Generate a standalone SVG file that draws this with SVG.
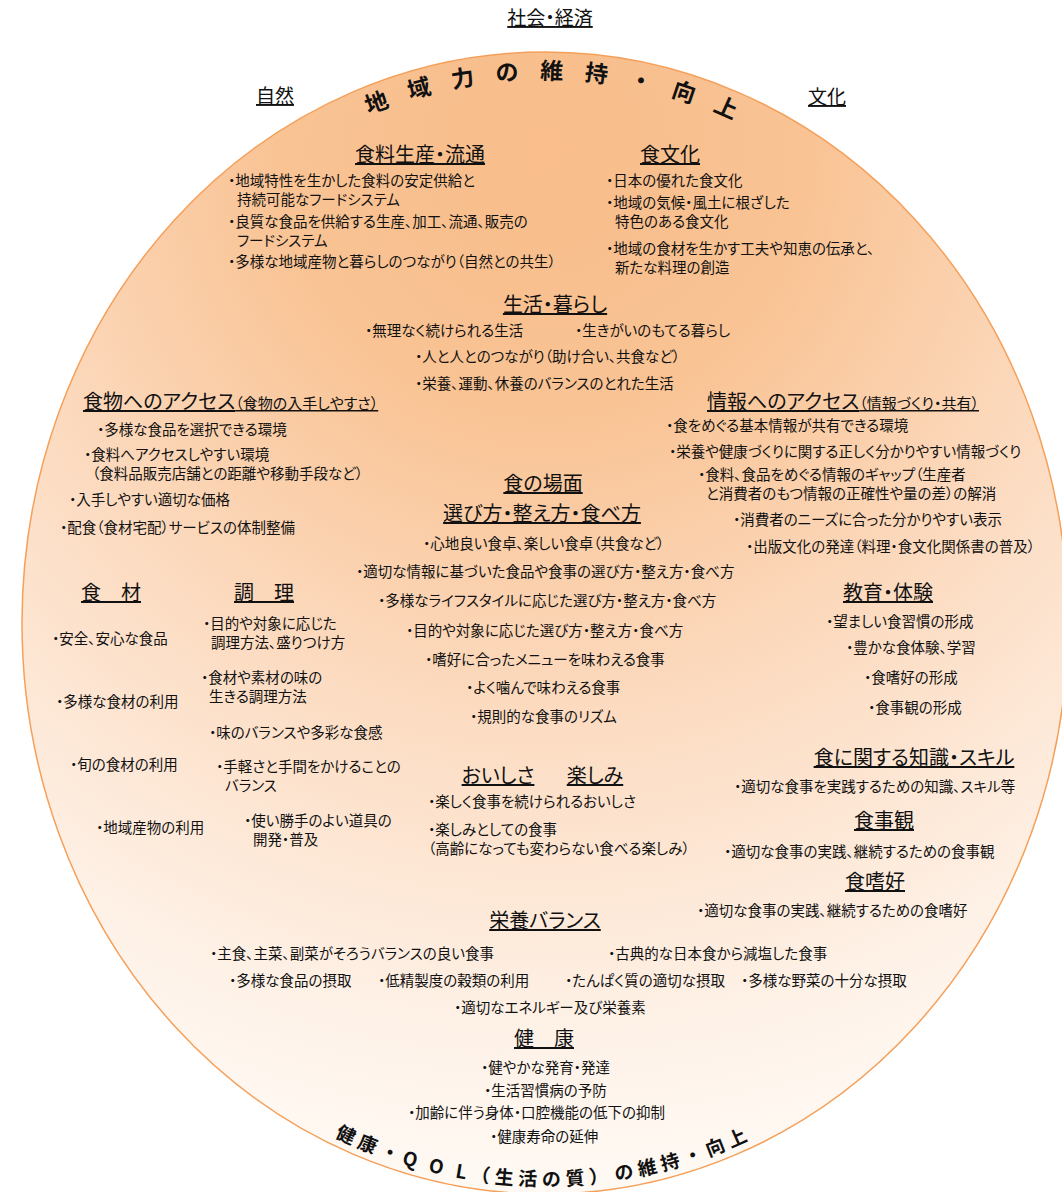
<svg xmlns="http://www.w3.org/2000/svg" xmlns:xlink="http://www.w3.org/1999/xlink" width="1062" height="1192" viewBox="0 0 1062 1192">
<style>
text{font-family:"Noto Sans CJK JP","Noto Sans CJK SC",sans-serif;fill:#111;font-feature-settings:"palt"}
.t{font-size:14.5px}
.h{font-size:20px;text-decoration:underline}
.hs{font-size:15px}
.top{font-size:19px;text-decoration:underline}
.m{text-anchor:middle}
.arc{font-weight:bold;font-feature-settings:normal}
.ab{font-size:19px;letter-spacing:5px}
</style>
<defs>
<radialGradient id="bg" gradientUnits="userSpaceOnUse" cx="545" cy="150" r="1050">
<stop offset="0" stop-color="#f8bd8a"/>
<stop offset="0.25" stop-color="#f9c394"/>
<stop offset="0.55" stop-color="#fcdcc2"/>
<stop offset="0.85" stop-color="#fef2e8"/>
<stop offset="1" stop-color="#fffaf5"/>
</radialGradient>
<path id="topArc" d="M 49,623 A 496,544 0 0 1 1041,623"/>
<path id="botArc" d="M 30,623 A 515,563 0 0 0 1060,623"/>
</defs>
<rect width="1062" height="1192" fill="#fff"/>
<ellipse id="circle" cx="545" cy="623" rx="523" ry="571" fill="url(#bg)" stroke="#f5a05a" stroke-width="1.5"/>

<g id="outer-labels">
<text class="top m" x="550" y="25">社会・経済</text>
<text class="top m" x="275" y="103">自然</text>
<text class="top m" x="827" y="104">文化</text>
</g>

<g id="arc-top">
<text class="arc" font-size="23" letter-spacing="21" text-anchor="middle"><textPath xlink:href="#topArc" startOffset="834">地域力の維持・向上</textPath></text>
</g>
<g id="arc-bottom">
<text class="arc ab"><textPath xlink:href="#botArc" startOffset="629">健康・</textPath></text>
<text class="arc ab" style="letter-spacing:13px"><textPath xlink:href="#botArc" startOffset="701">QOL</textPath></text>
<text class="arc ab"><textPath xlink:href="#botArc" startOffset="772">（生活の質）</textPath></text>
<text class="arc ab"><textPath xlink:href="#botArc" startOffset="918">の維持・向上</textPath></text>
</g>

<g id="food-production">
<text class="h m" x="420" y="162">食料生産・流通</text>
<text class="t" x="228" y="186">・地域特性を生かした食料の安定供給と<tspan x="237" dy="19">持続可能なフードシステム</tspan></text>
<text class="t" x="228" y="227">・良質な食品を供給する生産、加工、流通、販売の<tspan x="237" dy="19">フードシステム</tspan></text>
<text class="t" x="228" y="267">・多様な地域産物と暮らしのつながり（自然との共生）</text>
</g>

<g id="food-culture">
<text class="h m" x="670" y="162">食文化</text>
<text class="t" x="606" y="186">・日本の優れた食文化</text>
<text class="t" x="606" y="208">・地域の気候・風土に根ざした<tspan x="615" dy="19">特色のある食文化</tspan></text>
<text class="t" x="606" y="254">・地域の食材を生かす工夫や知恵の伝承と、<tspan x="615" dy="19">新たな料理の創造</tspan></text>
</g>

<g id="life">
<text class="h m" x="555" y="312">生活・暮らし</text>
<text class="t" x="365" y="336">・無理なく続けられる生活</text>
<text class="t" x="575" y="336">・生きがいのもてる暮らし</text>
<text class="t" x="415" y="362">・人と人とのつながり（助け合い、共食など）</text>
<text class="t" x="415" y="389">・栄養、運動、休養のバランスのとれた生活</text>
</g>

<g id="food-access">
<text class="h" x="83" y="409">食物へのアクセス<tspan class="hs">（食物の入手しやすさ）</tspan></text>
<text class="t" x="97" y="435">・多様な食品を選択できる環境</text>
<text class="t" x="84" y="460">・食料へアクセスしやすい環境<tspan x="92" dy="19">（食料品販売店舗との距離や移動手段など）</tspan></text>
<text class="t" x="69" y="505">・入手しやすい適切な価格</text>
<text class="t" x="60" y="533">・配食（食材宅配）サービスの体制整備</text>
</g>

<g id="info-access">
<text class="h" x="707" y="409">情報へのアクセス<tspan class="hs">（情報づくり・共有）</tspan></text>
<text class="t" x="666" y="431">・食をめぐる基本情報が共有できる環境</text>
<text class="t" x="669" y="457">・栄養や健康づくりに関する正しく分かりやすい情報づくり</text>
<text class="t" x="698" y="480">・食料、食品をめぐる情報のギャップ（生産者<tspan x="706" dy="19">と消費者のもつ情報の正確性や量の差）の解消</tspan></text>
<text class="t" x="733" y="525">・消費者のニーズに合った分かりやすい表示</text>
<text class="t" x="746" y="552">・出版文化の発達（料理・食文化関係書の普及）</text>
</g>

<g id="eating-scene">
<text class="h m" x="543" y="491">食の場面</text>
<text class="h m" x="542" y="521">選び方・整え方・食べ方</text>
<text class="t" x="423" y="549">・心地良い食卓、楽しい食卓（共食など）</text>
<text class="t" x="356" y="577">・適切な情報に基づいた食品や食事の選び方・整え方・食べ方</text>
<text class="t" x="378" y="606">・多様なライフスタイルに応じた選び方・整え方・食べ方</text>
<text class="t" x="406" y="636">・目的や対象に応じた選び方・整え方・食べ方</text>
<text class="t" x="425" y="665">・嗜好に合ったメニューを味わえる食事</text>
<text class="t" x="466" y="693">・よく噛んで味わえる食事</text>
<text class="t" x="470" y="722">・規則的な食事のリズム</text>
</g>

<g id="ingredients">
<text class="h m" x="111" y="600">食　材</text>
<text class="t" x="52" y="644">・安全、安心な食品</text>
<text class="t" x="56" y="707">・多様な食材の利用</text>
<text class="t" x="70" y="770">・旬の食材の利用</text>
<text class="t" x="96" y="833">・地域産物の利用</text>
</g>

<g id="cooking">
<text class="h m" x="264" y="600">調　理</text>
<text class="t" x="203" y="629">・目的や対象に応じた<tspan x="211" dy="19">調理方法、盛りつけ方</tspan></text>
<text class="t" x="201" y="683">・食材や素材の味の<tspan x="209" dy="19">生きる調理方法</tspan></text>
<text class="t" x="209" y="738">・味のバランスや多彩な食感</text>
<text class="t" x="216" y="772">・手軽さと手間をかけることの<tspan x="225" dy="19">バランス</tspan></text>
<text class="t" x="244" y="826">・使い勝手のよい道具の<tspan x="253" dy="19">開発・普及</tspan></text>
</g>

<g id="education">
<text class="h m" x="888" y="600">教育・体験</text>
<text class="t" x="826" y="627">・望ましい食習慣の形成</text>
<text class="t" x="846" y="653">・豊かな食体験、学習</text>
<text class="t" x="864" y="683">・食嗜好の形成</text>
<text class="t" x="868" y="713">・食事観の形成</text>
</g>

<g id="knowledge">
<text class="h m" x="914" y="765">食に関する知識・スキル</text>
<text class="t" x="734" y="792">・適切な食事を実践するための知識、スキル等</text>
</g>

<g id="view">
<text class="h m" x="884" y="828">食事観</text>
<text class="t" x="724" y="857">・適切な食事の実践、継続するための食事観</text>
</g>

<g id="preference">
<text class="h m" x="875" y="889">食嗜好</text>
<text class="t" x="697" y="916">・適切な食事の実践、継続するための食嗜好</text>
</g>

<g id="taste">
<text class="h m" x="498" y="783">おいしさ</text>
<text class="h m" x="595" y="783">楽しみ</text>
<text class="t" x="428" y="807">・楽しく食事を続けられるおいしさ</text>
<text class="t" x="428" y="835">・楽しみとしての食事<tspan x="428" dy="19">（高齢になっても変わらない食べる楽しみ）</tspan></text>
</g>

<g id="nutrition">
<text class="h m" x="545" y="928">栄養バランス</text>
<text class="t" x="210" y="959">・主食、主菜、副菜がそろうバランスの良い食事</text>
<text class="t" x="608" y="959">・古典的な日本食から減塩した食事</text>
<text class="t" x="229" y="986">・多様な食品の摂取</text>
<text class="t" x="378" y="986">・低精製度の穀類の利用</text>
<text class="t" x="565" y="986">・たんぱく質の適切な摂取</text>
<text class="t" x="741" y="986">・多様な野菜の十分な摂取</text>
<text class="t" x="454" y="1013">・適切なエネルギー及び栄養素</text>
</g>

<g id="health">
<text class="h m" x="544" y="1046">健　康</text>
<text class="t" x="481" y="1073">・健やかな発育・発達</text>
<text class="t" x="484" y="1096">・生活習慣病の予防</text>
<text class="t" x="408" y="1118">・加齢に伴う身体・口腔機能の低下の抑制</text>
<text class="t" x="490" y="1142">・健康寿命の延伸</text>
</g>
</svg>
